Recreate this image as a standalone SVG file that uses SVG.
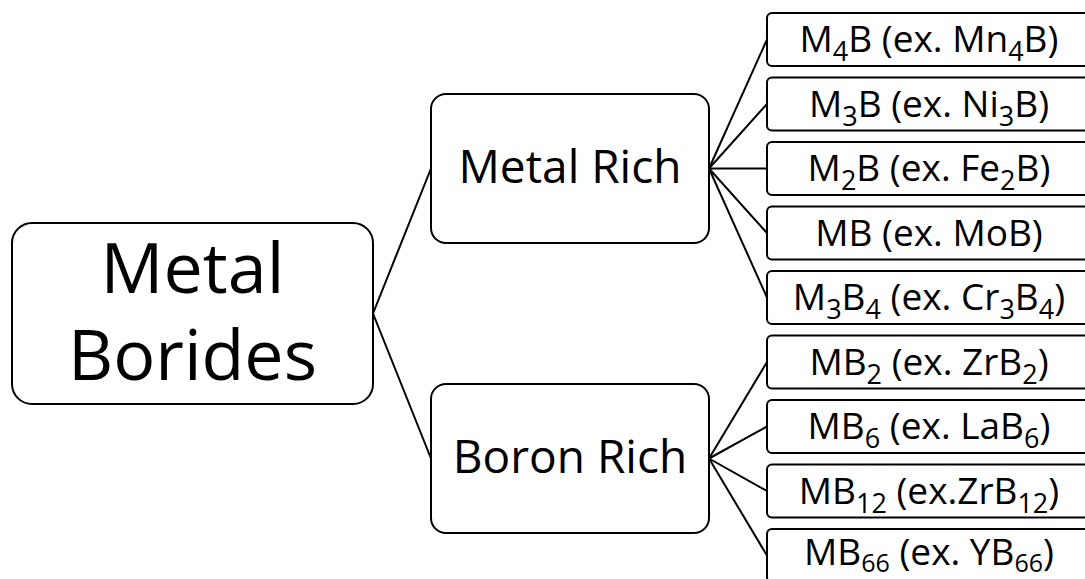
<svg xmlns="http://www.w3.org/2000/svg" width="1085" height="579" viewBox="0 0 1085 579">
<style>
.box{fill:#fff;stroke:#000;stroke-width:2}
.t{font-family:"Open Sans","Noto Sans",sans-serif;fill:#000;text-anchor:middle}
.leaf{font-size:37px}
.conn line{stroke:#000;stroke-width:2}
</style>
<rect width="1085" height="579" fill="#fff"/>
<g class="conn" id="connectors">
<line x1="373" y1="313.5" x2="431" y2="168.5"/>
<line x1="373" y1="313.5" x2="431" y2="458.5"/>
<line x1="709" y1="168.5" x2="767" y2="39.5"/>
<line x1="709" y1="168.5" x2="767" y2="104"/>
<line x1="709" y1="168.5" x2="767" y2="168.5"/>
<line x1="709" y1="168.5" x2="767" y2="233"/>
<line x1="709" y1="168.5" x2="767" y2="297.5"/>
<line x1="709" y1="458.5" x2="767" y2="362"/>
<line x1="709" y1="458.5" x2="767" y2="426.5"/>
<line x1="709" y1="458.5" x2="767" y2="491"/>
<line x1="709" y1="458.5" x2="767" y2="555.5"/>
</g>
<g id="root">
<rect class="box" x="12" y="223" width="361" height="181" rx="20"/>
<text class="t" x="192.5" y="293" font-size="70">Metal</text>
<text class="t" x="192.5" y="380" font-size="70">Borides</text>
</g>
<g id="metal-rich">
<rect class="box" x="431" y="94" width="278" height="149" rx="15"/>
<text class="t" x="570" y="183" font-size="46">Metal Rich</text>
</g>
<g id="boron-rich">
<rect class="box" x="431" y="384" width="278" height="149" rx="15"/>
<text class="t" x="570" y="473" font-size="46">Boron Rich</text>
</g>
<g id="leaf1"><rect class="box" x="767" y="13" width="330" height="53" rx="5"/>
<text class="t leaf" x="929" y="52">M<tspan font-size="27" dy="9">4</tspan><tspan dy="-9">B (ex. Mn</tspan><tspan font-size="27" dy="9">4</tspan><tspan dy="-9">B)</tspan></text></g>
<g id="leaf2"><rect class="box" x="767" y="77.5" width="330" height="53" rx="5"/>
<text class="t leaf" x="929" y="116.5">M<tspan font-size="27" dy="9">3</tspan><tspan dy="-9">B (ex. Ni</tspan><tspan font-size="27" dy="9">3</tspan><tspan dy="-9">B)</tspan></text></g>
<g id="leaf3"><rect class="box" x="767" y="142" width="330" height="53" rx="5"/>
<text class="t leaf" x="929" y="181">M<tspan font-size="27" dy="9">2</tspan><tspan dy="-9">B (ex. Fe</tspan><tspan font-size="27" dy="9">2</tspan><tspan dy="-9">B)</tspan></text></g>
<g id="leaf4"><rect class="box" x="767" y="206.5" width="330" height="53" rx="5"/>
<text class="t leaf" x="929" y="245.5">MB (ex. MoB)</text></g>
<g id="leaf5"><rect class="box" x="767" y="271" width="330" height="53" rx="5"/>
<text class="t leaf" x="929" y="310">M<tspan font-size="27" dy="9">3</tspan><tspan dy="-9">B</tspan><tspan font-size="27" dy="9">4</tspan><tspan dy="-9"> (ex. Cr</tspan><tspan font-size="27" dy="9">3</tspan><tspan dy="-9">B</tspan><tspan font-size="27" dy="9">4</tspan><tspan dy="-9">)</tspan></text></g>
<g id="leaf6"><rect class="box" x="767" y="335.5" width="330" height="53" rx="5"/>
<text class="t leaf" x="929" y="374.5">MB<tspan font-size="27" dy="9">2</tspan><tspan dy="-9"> (ex. ZrB</tspan><tspan font-size="27" dy="9">2</tspan><tspan dy="-9">)</tspan></text></g>
<g id="leaf7"><rect class="box" x="767" y="400" width="330" height="53" rx="5"/>
<text class="t leaf" x="929" y="439">MB<tspan font-size="27" dy="9">6</tspan><tspan dy="-9"> (ex. LaB</tspan><tspan font-size="27" dy="9">6</tspan><tspan dy="-9">)</tspan></text></g>
<g id="leaf8"><rect class="box" x="767" y="464.5" width="330" height="53" rx="5"/>
<text class="t leaf" x="929" y="503.5">MB<tspan font-size="27" dy="9">12</tspan><tspan dy="-9"> (ex.ZrB</tspan><tspan font-size="27" dy="9">12</tspan><tspan dy="-9">)</tspan></text></g>
<g id="leaf9"><rect class="box" x="767" y="529" width="330" height="53" rx="5"/>
<text class="t leaf" x="929" y="565">MB<tspan font-size="25" dy="7">66</tspan><tspan dy="-7"> (ex. YB</tspan><tspan font-size="25" dy="7">66</tspan><tspan dy="-7">)</tspan></text></g>
</svg>
